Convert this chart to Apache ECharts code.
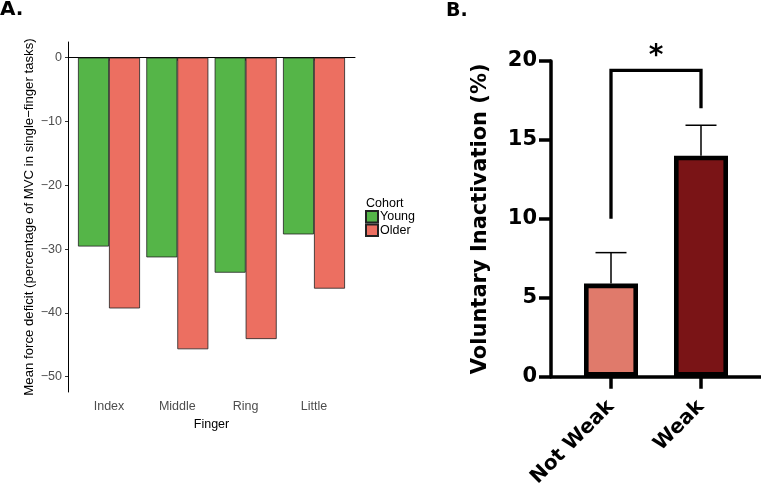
<!DOCTYPE html>
<html><head><meta charset="utf-8">
<script src="https://cdn.jsdelivr.net/npm/echarts@6/dist/echarts.min.js"></script>
<style>html,body{margin:0;padding:0;background:#fff}#c{width:761px;height:484px}</style>
</head><body><div id="c"></div>
<script>
// ---- Panel A data ----
const fingers = ['Index', 'Middle', 'Ring', 'Little'];
const fingerPos = [1, 2, 3, 4];
const youngDeficit = [-29.6, -31.3, -33.7, -27.7];
const olderDeficit = [-39.3, -45.7, -44.1, -36.2];
const deficitTicks = [0, -10, -20, -30, -40, -50];
// ---- Panel B data ----
const groupsB = ['Not Weak', 'Weak'];
const groupPosB = [1, 2];
const inactivationMean = [5.9, 14.0];
const inactivationErr = [1.96, 1.93];
const sigBracket = [10, 19.4, 17.0]; // left foot, top, right foot

const FONT = '"Liberation Sans", Arial, Helvetica, sans-serif';
const BFONT = '"DejaVu Sans", Verdana, sans-serif';
const chart = echarts.init(document.getElementById('c'), null, {renderer: 'canvas'});
const colorsB = ['#E07A6B', '#7A1416'];

const option = {
  animation: false,
  backgroundColor: '#fff',
  textStyle: {fontFamily: FONT},
  title: [
    {text: 'A.', left: 0, top: 0, padding: 0, textStyle: {fontFamily: BFONT, fontSize: 20, fontWeight: 'bold', color: '#000'}},
    {text: 'B.', left: 446, top: 2, padding: 0, textStyle: {fontFamily: BFONT, fontSize: 19, fontWeight: 'bold', color: '#000'}},
    {text: 'Cohort', left: 366, top: 197, padding: 0, textStyle: {fontFamily: FONT, fontSize: 12.5, fontWeight: 'normal', color: '#000'}}
  ],
  legend: {
    data: ['Young', 'Older'],
    orient: 'vertical', left: 365, top: 210, padding: 0, itemGap: 0,
    itemWidth: 12, itemHeight: 11.5, icon: 'rect',
    textStyle: {fontFamily: FONT, fontSize: 12.5, color: '#000', padding: [0, 0, 0, -3]}
  },
  grid: [
    {left: 68, top: 42, width: 287, height: 350, outerBoundsMode: 'none', containLabel: false},
    {left: 551, top: 61, width: 210, height: 315.7, outerBoundsMode: 'none', containLabel: false}
  ],
  xAxis: [
    {
      type: 'value', gridIndex: 0, min: 0.4, max: 4.6,
      splitLine: {show: false},
      axisLine: {show: true, lineStyle: {color: '#000', width: 1}},
      axisTick: {show: true, customValues: fingerPos, length: 3, lineStyle: {color: '#333', width: 1}},
      axisLabel: {customValues: fingerPos, formatter: v => fingers[Math.round(v) - 1], margin: 8, fontSize: 12.5, color: '#4d4d4d', fontFamily: FONT},
      name: 'Finger', nameLocation: 'middle', nameGap: 24,
      nameTextStyle: {fontSize: 12.5, color: '#000', fontFamily: FONT}
    },
    {
      type: 'value', gridIndex: 1, min: 0.3333, max: 2.6667,
      splitLine: {show: false},
      axisLine: {show: true, lineStyle: {color: '#000', width: 3.5}},
      axisTick: {show: true, customValues: groupPosB, length: 12, lineStyle: {color: '#000', width: 3.5}},
      axisLabel: {customValues: groupPosB, formatter: v => groupsB[Math.round(v) - 1], rotate: 45, margin: 27, fontSize: 20, fontWeight: 'bold', color: '#000', fontFamily: BFONT}
    }
  ],
  yAxis: [
    {
      type: 'value', gridIndex: 0, min: -52.4, max: 2.45,
      splitLine: {show: false},
      axisLine: {show: true, lineStyle: {color: '#000', width: 1}},
      axisTick: {show: true, customValues: deficitTicks, length: 3, lineStyle: {color: '#333', width: 1}},
      axisLabel: {customValues: deficitTicks, formatter: v => (v < 0 ? '\u2212' + (-v) : String(v)), margin: 6, fontSize: 12.5, color: '#4d4d4d', fontFamily: FONT},
      name: 'Mean force deficit (percentage of MVC in single\u2212finger tasks)',
      nameLocation: 'middle', nameGap: 32,
      nameTextStyle: {fontSize: 13.2, color: '#000', fontFamily: FONT}
    },
    {
      type: 'value', gridIndex: 1, min: 0, max: 20, interval: 5,
      splitLine: {show: false},
      axisLine: {show: true, lineStyle: {color: '#000', width: 3.5}},
      axisTick: {show: true, length: 12, lineStyle: {color: '#000', width: 3.5}},
      axisLabel: {margin: 14, fontSize: 21, fontWeight: 'bold', color: '#000', fontFamily: BFONT},
      name: 'Voluntary Inactivation (%)', nameLocation: 'middle', nameGap: 60,
      nameTextStyle: {fontSize: 21, fontWeight: 'bold', color: '#000', fontFamily: BFONT}
    }
  ],
  series: [
    {
      name: 'Young', type: 'bar', xAxisIndex: 0, yAxisIndex: 0,
      barWidth: 31, barGap: '0%',
      data: fingerPos.map((x, i) => [x, youngDeficit[i]]),
      itemStyle: {color: '#55B548', borderColor: '#222', borderWidth: 0.8}
    },
    {
      name: 'Older', type: 'bar', xAxisIndex: 0, yAxisIndex: 0,
      barWidth: 31, barGap: '0%',
      data: fingerPos.map((x, i) => [x, olderDeficit[i]]),
      itemStyle: {color: '#EC6F61', borderColor: '#222', borderWidth: 0.8}
    },
    {
      name: 'Inactivation', type: 'bar', xAxisIndex: 1, yAxisIndex: 1,
      barWidth: 54,
      data: groupPosB.map((x, i) => ({value: [x, inactivationMean[i]], itemStyle: {color: colorsB[i]}})),
      itemStyle: {borderColor: '#000', borderWidth: 4.6}
    },
    {
      name: 'err', type: 'custom', xAxisIndex: 1, yAxisIndex: 1, z: 1,
      data: groupPosB.map((x, i) => [x, inactivationMean[i], inactivationErr[i]]),
      encode: {x: 0, y: 1},
      renderItem: (params, api) => {
        const x = api.value(0), m = api.value(1), e = api.value(2);
        const p0 = api.coord([x, m]);
        const p1 = api.coord([x, m + e]);
        const st = {stroke: '#000', lineWidth: 1.5};
        return {type: 'group', children: [
          {type: 'line', shape: {x1: p0[0], y1: p0[1], x2: p1[0], y2: p1[1]}, style: st},
          {type: 'line', shape: {x1: p1[0] - 15.5, y1: p1[1], x2: p1[0] + 15.5, y2: p1[1]}, style: st}
        ]};
      }
    },
    {
      name: 'sig', type: 'custom', xAxisIndex: 1, yAxisIndex: 1, z: 5,
      data: [[groupPosB[0], groupPosB[1], sigBracket[0], sigBracket[1], sigBracket[2]]],
      encode: {x: [0, 1], y: [2, 3, 4]},
      renderItem: (params, api) => {
        const a = api.coord([api.value(0), api.value(2)]);
        const t1 = api.coord([api.value(0), api.value(3)]);
        const t2 = api.coord([api.value(1), api.value(3)]);
        const b = api.coord([api.value(1), api.value(4)]);
        return {type: 'group', children: [
          {type: 'polyline', shape: {points: [a, t1, t2, b]}, style: {stroke: '#000', lineWidth: 3.3, fill: null}},
          {type: 'text', x: (t1[0] + t2[0]) / 2, y: t1[1] - 14,
           style: {text: '*', font: 'bold 28px ' + BFONT, fill: '#000', align: 'center', verticalAlign: 'middle'}}
        ]};
      }
    }
  ]
};
chart.setOption(option);
</script>
</body></html>
